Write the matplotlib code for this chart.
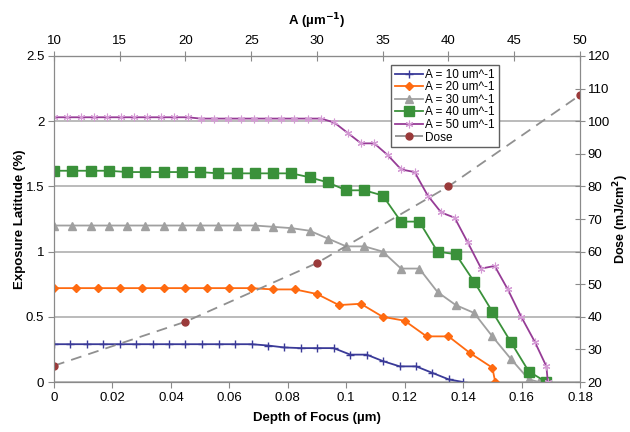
import matplotlib
matplotlib.use("Agg")
import matplotlib.pyplot as plt
from matplotlib.ticker import FormatStrFormatter, MultipleLocator, FixedLocator

plt.rcParams['font.family'] = ['Liberation Sans', 'DejaVu Sans']

# depth of focus (um) and exposure latitude (%) for each A value
depth_10 = [0, 0.0056, 0.0113, 0.0169, 0.0225, 0.0282, 0.0338, 0.0394, 0.0450,
            0.0507, 0.0563, 0.0619, 0.0676, 0.0732, 0.0788, 0.0845, 0.0901,
            0.0957, 0.1014, 0.1070, 0.1126, 0.1183, 0.1239, 0.1295, 0.1351, 0.140]
lat_10 = [0.29, 0.29, 0.29, 0.29, 0.29, 0.29, 0.29, 0.29, 0.29, 0.29, 0.29, 0.29,
          0.29, 0.28, 0.265, 0.26, 0.26, 0.26, 0.21, 0.21, 0.16, 0.12, 0.12, 0.07,
          0.02, 0.0]

depth_20 = [0, 0.0075, 0.015, 0.0225, 0.03, 0.0375, 0.045, 0.0525, 0.06, 0.0675,
            0.075, 0.0825, 0.09, 0.0975, 0.105, 0.1125, 0.12, 0.1275, 0.135,
            0.1425, 0.150, 0.151]
lat_20 = [0.72, 0.72, 0.72, 0.72, 0.72, 0.72, 0.72, 0.72, 0.72, 0.72, 0.71, 0.71,
          0.675, 0.59, 0.60, 0.50, 0.47, 0.35, 0.35, 0.22, 0.11, 0.0]

depth_30 = [0, 0.00625, 0.0125, 0.01875, 0.025, 0.03125, 0.0375, 0.04375, 0.05,
            0.05625, 0.0625, 0.06875, 0.075, 0.08125, 0.0875, 0.09375, 0.1,
            0.10625, 0.1125, 0.11875, 0.125, 0.13125, 0.1375, 0.14375, 0.15,
            0.15625, 0.1625, 0.166]
lat_30 = [1.20, 1.20, 1.20, 1.20, 1.20, 1.20, 1.20, 1.20, 1.20, 1.20, 1.20, 1.20,
          1.19, 1.18, 1.16, 1.10, 1.04, 1.04, 1.00, 0.87, 0.87, 0.69, 0.59, 0.53,
          0.35, 0.18, 0.02, 0.0]

depth_40 = [0, 0.00625, 0.0125, 0.01875, 0.025, 0.03125, 0.0375, 0.04375, 0.05,
            0.05625, 0.0625, 0.06875, 0.075, 0.08125, 0.0875, 0.09375, 0.1,
            0.10625, 0.1125, 0.11875, 0.125, 0.13125, 0.1375, 0.14375, 0.15,
            0.15625, 0.1625, 0.1685]
lat_40 = [1.62, 1.62, 1.62, 1.62, 1.61, 1.61, 1.61, 1.61, 1.61, 1.60, 1.60, 1.60,
          1.60, 1.60, 1.57, 1.53, 1.47, 1.47, 1.43, 1.23, 1.23, 1.00, 0.98, 0.77,
          0.54, 0.31, 0.08, 0.0]

depth_50 = [0, 0.0046, 0.0091, 0.0137, 0.0183, 0.0228, 0.0274, 0.0320, 0.0365,
            0.0411, 0.0457, 0.0502, 0.0548, 0.0594, 0.0640, 0.0685, 0.0731,
            0.0777, 0.0822, 0.0868, 0.0914, 0.0959, 0.1005, 0.1051, 0.1096,
            0.1142, 0.1188, 0.1234, 0.1279, 0.1325, 0.1371, 0.1416, 0.1462,
            0.1508, 0.1553, 0.1599, 0.1645, 0.1685, 0.169]
lat_50 = [2.03, 2.03, 2.03, 2.03, 2.03, 2.03, 2.03, 2.03, 2.03, 2.03, 2.03, 2.02,
          2.02, 2.02, 2.02, 2.02, 2.02, 2.02, 2.02, 2.02, 2.02, 1.99, 1.91, 1.83,
          1.83, 1.74, 1.63, 1.61, 1.43, 1.30, 1.26, 1.07, 0.87, 0.89, 0.71, 0.50,
          0.31, 0.12, 0.0]

dose_depth = [0, 0.045, 0.09, 0.135, 0.18]
dose = [25, 38.5, 56.5, 80, 108]

a_ticks = [10, 15, 20, 25, 30, 35, 40, 45, 50]

series = [
    (depth_10, lat_10, 'A = 10 um^-1', '#3A3A98', '+', 6, '#3A3A98', 1.0),
    (depth_20, lat_20, 'A = 20 um^-1', '#FF6A10', 'D', 4.5, '#FF6A10', 1.0),
    (depth_30, lat_30, 'A = 30 um^-1', '#A0A0A0', '^', 5.5, '#A0A0A0', 1.0),
    (depth_40, lat_40, 'A = 40 um^-1', '#3A913A', 's', 6.5, '#3A913A', 1.0),
    (depth_50, lat_50, 'A = 50 um^-1', '#963C96', (6, 2, 0), 5.5, '#D49AD4', 0.8),
]

fig = plt.figure(figsize=(6.3, 4.32), dpi=100)
ax = fig.add_axes([0.0857, 0.1157, 0.8349, 0.7547])
ax2 = ax.twinx()

handles = []
for x, y, name, col, mk, ms, mcol, mew in series:
    h, = ax.plot(x, y, color=col, lw=1.3, marker=mk, markersize=ms,
                 markerfacecolor=mcol, markeredgecolor=mcol, markeredgewidth=mew,
                 label=name)
    handles.append(h)

hd, = ax2.plot(dose_depth, dose, color='#909090', lw=1.3, dashes=(6, 4),
               marker='o', markersize=5, markerfacecolor='#9A3A3A',
               markeredgecolor='#9A3A3A', label='Dose')
handles.append(hd)

ax.set_xlim(0, 0.18)
ax.set_ylim(0, 2.5)
ax2.set_ylim(20, 120)
ax.xaxis.set_major_locator(MultipleLocator(0.02))
ax.yaxis.set_major_locator(MultipleLocator(0.5))
ax2.yaxis.set_major_locator(MultipleLocator(10))
ax.xaxis.set_major_formatter(FormatStrFormatter('%g'))
ax.yaxis.set_major_formatter(FormatStrFormatter('%g'))

ax.grid(axis='y', color='#A8A8A8', lw=1.1)
ax.set_axisbelow(True)

top = ax.secondary_xaxis('top', functions=(lambda d: 10 + d * 40 / 0.18,
                                           lambda a: (a - 10) * 0.18 / 40))
top.xaxis.set_major_locator(FixedLocator(a_ticks))

for a in (ax, ax2):
    for s in a.spines.values():
        s.set_color('#8A8A8A')
for s in top.spines.values():
    s.set_color('#8A8A8A')

ax.tick_params(axis='both', direction='out', length=4, color='#8A8A8A',
               labelsize=9.5, pad=3)
ax2.tick_params(axis='y', direction='inout', length=7, color='#8A8A8A',
                labelsize=9.5, pad=2)
top.tick_params(axis='x', direction='inout', length=7, color='#8A8A8A',
                labelsize=9.5, pad=3)

ax.set_xlabel('Depth of Focus (\u00b5m)', fontsize=9.5, fontweight='bold', labelpad=6)
ax.set_ylabel('Exposure Latitude (%)', fontsize=9.5, fontweight='bold', labelpad=0)
top.set_xlabel('A (\u00b5m$^{\\mathbf{-1}}$)', fontsize=9.5, fontweight='bold', labelpad=7)
ax2.set_ylabel('Dose (mJ/cm$^{\\mathbf{2}}$)', fontsize=9, fontweight='bold', labelpad=1)

leg = ax2.legend(handles=handles, loc='upper left', bbox_to_anchor=(0.641, 0.972),
                 borderaxespad=0, fontsize=8.5, frameon=True, fancybox=False,
                 handlelength=2.4, handletextpad=0.2, labelspacing=0.05,
                 borderpad=0.3, framealpha=1)
leg.get_frame().set_edgecolor('#606060')
leg.get_frame().set_linewidth(1.0)

fig.savefig('out.png', dpi=100)
